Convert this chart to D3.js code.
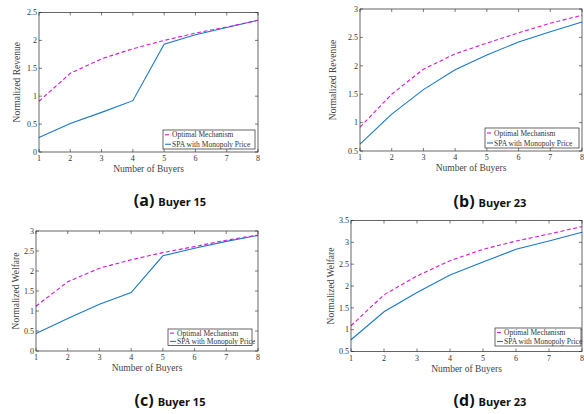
<!DOCTYPE html>
<html>
<head>
<meta charset="utf-8">
<title>Normalized Revenue and Welfare</title>
<script src="https://cdn.jsdelivr.net/npm/d3@7"></script>
<style>
  body { margin: 0; background: #fff; }
</style>
</head>
<body>
<script>
// number of buyers on the x axis
var buyers = [1, 2, 3, 4, 5, 6, 7, 8];

// (a) revenue, buyer 15
var revOpt15 = [0.91, 1.41, 1.67, 1.85, 2.00, 2.13, 2.24, 2.36];
var revSpa15 = [0.26, 0.51, 0.71, 0.92, 1.93, 2.10, 2.23, 2.36];
// (b) revenue, buyer 23
var revOpt23 = [0.92, 1.50, 1.94, 2.21, 2.40, 2.58, 2.75, 2.89];
var revSpa23 = [0.62, 1.15, 1.58, 1.93, 2.19, 2.42, 2.60, 2.77];
// (c) welfare, buyer 15
var welOpt15 = [1.12, 1.73, 2.07, 2.28, 2.46, 2.61, 2.77, 2.90];
var welSpa15 = [0.44, 0.81, 1.17, 1.46, 2.38, 2.57, 2.74, 2.89];
// (d) welfare, buyer 23
var welOpt23 = [1.09, 1.80, 2.23, 2.58, 2.84, 3.03, 3.19, 3.36];
var welSpa23 = [0.77, 1.41, 1.85, 2.25, 2.55, 2.84, 3.03, 3.23];

var yTicksA = [0, 0.5, 1, 1.5, 2, 2.5];
var yTicksB = [0.5, 1, 1.5, 2, 2.5, 3];
var yTicksC = [0, 0.5, 1, 1.5, 2, 2.5, 3];
var yTicksD = [0.5, 1, 1.5, 2, 2.5, 3, 3.5];

var seriesNames = ["Optimal Mechanism", "SPA with Monopoly Price"];
var captions = [["(a)", "Buyer 15"], ["(b)", "Buyer 23"], ["(c)", "Buyer 15"], ["(d)", "Buyer 23"]];

var optColor = "#d21bd2";
var spaColor = "#1a78c8";

var svg = d3.select("body").append("svg")
    .attr("width", 584)
    .attr("height", 414);

var panels = [
    { l: 39, r: 258, t: 12.5, b: 152, yTicks: yTicksA, ylabel: "Normalized Revenue", yl: 19,
      opt: revOpt15, spa: revSpa15, leg: [163, 130, 92, 19], cap: [170, 206] },
    { l: 360, r: 582, t: 9, b: 151, yTicks: yTicksB, ylabel: "Normalized Revenue", yl: 24,
      opt: revOpt23, spa: revSpa23, leg: [485, 128, 94, 20], cap: [490, 207] },
    { l: 36, r: 258, t: 231, b: 351, yTicks: yTicksC, ylabel: "Normalized Welfare", yl: 17,
      opt: welOpt15, spa: welSpa15, leg: [168, 329, 84, 16.5], cap: [170, 406] },
    { l: 351, r: 582, t: 220.5, b: 351.5, yTicks: yTicksD, ylabel: "Normalized Welfare", yl: 17,
      opt: welOpt23, spa: welSpa23, leg: [495, 328, 86, 18], cap: [490, 406] }
];

panels.forEach(function(p, i) {
    var x = d3.scaleLinear().domain([1, 8]).range([p.l, p.r]);
    var yExt = d3.extent(p.yTicks);
    var y = d3.scaleLinear().domain(yExt).range([p.b, p.t]);
    var g = svg.append("g");

    // ticks inside on all four sides
    var tk = 3;
    buyers.forEach(function(v) {
        g.append("line").attr("x1", x(v)).attr("x2", x(v)).attr("y1", p.b).attr("y2", p.b - tk)
            .attr("stroke", "#262626").attr("stroke-width", 0.6);
        g.append("line").attr("x1", x(v)).attr("x2", x(v)).attr("y1", p.t).attr("y2", p.t + tk)
            .attr("stroke", "#262626").attr("stroke-width", 0.6);
        g.append("text").attr("x", x(v)).attr("y", p.b + 9)
            .attr("text-anchor", "middle")
            .style("font", "8px 'Liberation Serif', serif").style("fill", "#333")
            .text(v);
    });
    p.yTicks.forEach(function(v) {
        g.append("line").attr("x1", p.l).attr("x2", p.l + tk).attr("y1", y(v)).attr("y2", y(v))
            .attr("stroke", "#262626").attr("stroke-width", 0.6);
        g.append("line").attr("x1", p.r).attr("x2", p.r - tk).attr("y1", y(v)).attr("y2", y(v))
            .attr("stroke", "#262626").attr("stroke-width", 0.6);
        g.append("text").attr("x", p.l - 2).attr("y", y(v) + 2.8)
            .attr("text-anchor", "end")
            .style("font", "8px 'Liberation Serif', serif").style("fill", "#333")
            .text(v);
    });

    var line = d3.line()
        .x(function(d, j) { return x(buyers[j]); })
        .y(function(d) { return y(d); });

    g.append("path").datum(p.spa).attr("d", line)
        .attr("fill", "none").attr("stroke", spaColor).attr("stroke-width", 1.1);
    g.append("path").datum(p.opt).attr("d", line)
        .attr("fill", "none").attr("stroke", optColor).attr("stroke-width", 1.1)
        .attr("stroke-dasharray", "4,2.5");

    // box
    g.append("rect").attr("x", p.l).attr("y", p.t)
        .attr("width", p.r - p.l).attr("height", p.b - p.t)
        .attr("fill", "none").attr("stroke", "#262626").attr("stroke-width", 0.7);

    // axis labels
    g.append("text").attr("x", (p.l + p.r) / 2).attr("y", p.b + 20)
        .attr("text-anchor", "middle")
        .style("font", "9.5px 'Liberation Serif', serif").style("fill", "#444")
        .text("Number of Buyers");
    g.append("text")
        .attr("transform", "translate(" + (p.l - p.yl) + "," + ((p.t + p.b) / 2) + ") rotate(-90)")
        .attr("text-anchor", "middle")
        .style("font", "9.5px 'Liberation Serif', serif").style("fill", "#444")
        .text(p.ylabel);

    // legend
    var lg = p.leg;
    g.append("rect").attr("x", lg[0]).attr("y", lg[1]).attr("width", lg[2]).attr("height", lg[3])
        .attr("fill", "#fff").attr("stroke", "#262626").attr("stroke-width", 0.7);
    var rowH = lg[3] / 2;
    [optColor, spaColor].forEach(function(c, k) {
        var cy = lg[1] + rowH * (k + 0.5);
        g.append("line").attr("x1", lg[0] + 2).attr("x2", lg[0] + 8).attr("y1", cy).attr("y2", cy)
            .attr("stroke", c).attr("stroke-width", 1.1)
            .attr("stroke-dasharray", k === 0 ? "4,2" : null);
        g.append("text").attr("x", lg[0] + 9).attr("y", cy + 2.6)
            .style("font", "7.5px 'Liberation Serif', serif").style("fill", "#333")
            .text(seriesNames[k]);
    });

    // caption
    var cap = g.append("text").attr("x", p.cap[0]).attr("y", p.cap[1])
        .attr("text-anchor", "middle").style("fill", "#111");
    cap.append("tspan").style("font", "bold 16px 'Open Sans', sans-serif").text(captions[i][0]);
    cap.append("tspan").attr("dx", 4).style("font", "bold 11px 'Open Sans', sans-serif").text(captions[i][1]);
});
</script>
</body>
</html>
